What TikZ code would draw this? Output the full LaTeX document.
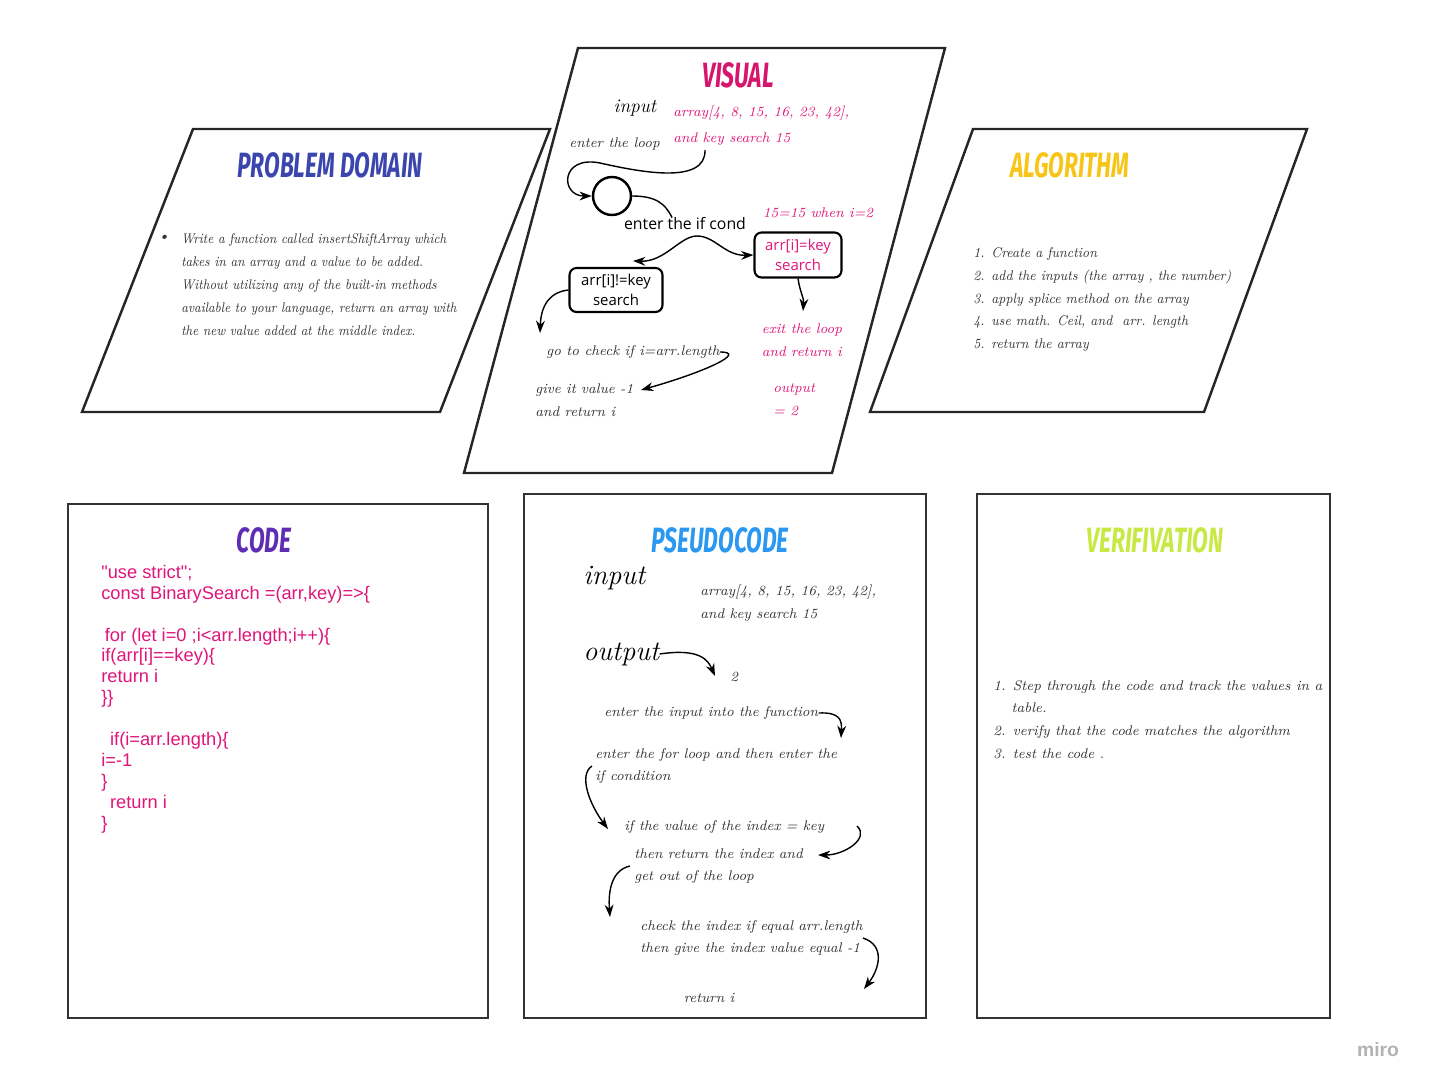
\documentclass[tikz,border=0pt]{standalone}
\usepackage{fontspec}
\usepackage{xcolor}
\usepackage{tikz}
\usetikzlibrary{arrows.meta, positioning, calc}

\newfontfamily\codefont{Liberation Sans}
\newfontfamily\boxfont{Open Sans}
\newfontfamily\titlefont{Fira Sans}[FakeStretch=0.65]

\definecolor{vispink}{HTML}{D6156C}
\definecolor{textpink}{HTML}{E0157A}
\definecolor{probblue}{HTML}{3B45AE}
\definecolor{algoyellow}{HTML}{F6C517}
\definecolor{codepurple}{HTML}{5E2DB3}
\definecolor{pseudoblue}{HTML}{2A98F0}
\definecolor{verilime}{HTML}{C9E843}
\definecolor{handgray}{HTML}{333333}

\begin{document}
\begin{tikzpicture}[x=0.02cm, y=-0.02cm, >={Stealth[length=7pt,width=5pt]},
    panel/.style={line width=1.4pt, draw=black!85},
    card/.style={line width=1.2pt, draw=black!80},
    title/.style={font=\titlefont\fontsize{20}{24}\selectfont\bfseries\itshape},
    hand/.style={font=\fontsize{8}{13}\selectfont\itshape, text=handgray, align=left, inner sep=0pt},
    narrowhand/.style={hand, xscale=0.87, transform shape},
    pinkhand/.style={hand, text=textpink},
    medhand/.style={font=\fontsize{11}{13}\selectfont\itshape, text=black, inner sep=0pt},
    bighand/.style={font=\fontsize{16}{18}\selectfont\itshape, text=black, inner sep=0pt},
    code/.style={font=\codefont\fontsize{10.4}{11.9}\selectfont, text=textpink, align=left, inner sep=0pt},
    rbox/.style={draw, rounded corners=4pt, line width=1.2pt, font=\boxfont\fontsize{8.5}{11}\selectfont, align=center, inner sep=1pt},
    flow/.style={->, line width=0.8pt}]

    \useasboundingbox (0,0) rectangle (1433,1089);

    % panels
    \draw[panel] (193,129) -- (550,129) -- (440,412) -- (82,412) -- cycle;
    \draw[panel] (578,48) -- (945,48) -- (832,473) -- (464,473) -- cycle;
    \draw[panel] (973,129) -- (1307,129) -- (1204,412) -- (870,412) -- cycle;
    \draw[card] (68,504) rectangle (488,1018);
    \draw[card] (524,494) rectangle (926,1018);
    \draw[card] (977,494) rectangle (1330,1018);

    % problem domain
    \node[title, text=probblue] (pdtitle) at (330,165) {PROBLEM DOMAIN};
    \node[hand] (pdbullet) at (164,238) {\textbullet};
    \node[narrowhand, anchor=west] (pdtext) at (181,284.5) {Write a function called insertShiftArray which\\takes in an array and a value to be added.\\Without utilizing any of the built-in methods\\available to your language, return an array with\\the new value added at the middle index.};

    % visual
    \node[title, text=vispink] (vistitle) at (738,75) {VISUAL};
    \node[medhand] (visinput) at (635,108) {input};
    \node[pinkhand, anchor=west] (visarr) at (673,113) {array[4, 8, 15, 16, 23, 42],};
    \node[pinkhand, anchor=west] (viskey) at (673,139) {and key search 15};
    \node[hand, anchor=west] (visloop) at (569,144) {enter the loop};
    \node[circle, draw, line width=1.4pt, minimum size=0.76cm] (loopc) at (612,196) {};
    \node[font=\boxfont\fontsize{9}{11}\selectfont, inner sep=0pt] (ifcond) at (685,224) {enter the if cond};
    \node[pinkhand] (viswhen) at (818,213) {15=15 when i=2};
    \node[rbox, text=textpink, minimum width=1.74cm, minimum height=0.9cm] (eqbox) at (798,255) {arr[i]=key\\search};
    \node[rbox, minimum width=1.86cm, minimum height=0.88cm] (neqbox) at (616,290) {arr[i]!=key\\search};
    \node[pinkhand, align=left] (exitloop) at (802,340) {exit the loop\\and return i};
    \node[pinkhand, anchor=west] (visout) at (773,400) {output\\= 2};
    \node[hand, anchor=west] (gocheck) at (546,352) {go to check if i=arr.length};
    \node[hand, anchor=west] (giveit) at (535,400) {give it value -1\\and return i};

    \coordinate (loopstart) at (705,150);
    \coordinate (neqend) at (540,333);
    \coordinate (giveend) at (641,390);
    \draw[flow] (loopstart) .. controls (706,185) and (640,172) .. (600,163) .. controls (560,155) and (560,196) .. (loopc.west);
    \draw[line width=0.8pt] (loopc.east) .. controls (655,196) and (665,203) .. ($(ifcond.north)+(-13,0)$);
    \draw[flow, <->] ($(neqbox.north)+(17,-6)$) .. controls (665,262) and (680,236) .. (697,236) .. controls (715,236) and (725,256) .. (eqbox.west);
    \draw[flow] (eqbox.south) .. controls (800,292) and (804,298) .. (803,311);
    \draw[flow] (neqbox.west) .. controls (550,292) and (541,305) .. (neqend);
    \draw[flow] (gocheck.east) .. controls (748,352) and (705,372) .. (giveend);

    % algorithm
    \node[narrowhand, xscale=1.06, anchor=west] (algotext) at (973,299.5) {1. Create a function\\2. add the inputs (the array , the number)\\3. apply splice method on the array\\4. use math. Ceil, and \ arr. length\\5. return the array};
    \node[title, text=algoyellow] (algotitle) at (1070,165) {ALGORITHM};

    % code
    \node[title, text=codepurple] (codetitle) at (264,540) {CODE};
    \node[code, anchor=west] (codetext) at (101,699) {"use strict";\\const BinarySearch =(arr,key)=>\{\\\mbox{}\\\hspace*{2pt}for (let i=0 ;i<arr.length;i++)\{\\if(arr[i]==key)\{\\return i\\\}\}\\\mbox{}\\\hspace*{5pt}if(i=arr.length)\{\\i=-1\\\}\\\hspace*{5pt}return i\\\}};

    % pseudocode
    \node[title, text=pseudoblue] (pstitle) at (720,540) {PSEUDOCODE};
    \node[bighand, anchor=west] (psin) at (583,578) {input};
    \node[hand, anchor=west] (psarr) at (700,603) {array[4, 8, 15, 16, 23, 42],\\and key search 15};
    \node[bighand, anchor=west] (psout) at (583,654) {output};
    \node[hand, anchor=west] (pstwo) at (730,677) {2};
    \node[hand, anchor=west] (psenter) at (604,713) {enter the input into the function};
    \node[hand, anchor=west] (psfor) at (595,766) {enter the for loop and then enter the\\if condition};
    \node[hand, anchor=west] (psif) at (624,827) {if the value of the index = key};
    \node[hand, anchor=west] (psthen) at (634,866) {then return the index and\\get out of the loop};
    \node[hand, anchor=west] (pscheck) at (640,938) {check the index if equal arr.length\\then give the index value equal -1};
    \node[hand] (psret) at (709,998) {return i};

    \coordinate (outend) at (715,676);
    \coordinate (enterend) at (841,738);
    \coordinate (forend) at (608,829);
    \coordinate (ifstart) at (857,826);
    \coordinate (thenend) at (818,855);
    \coordinate (getend) at (610,917);
    \coordinate (checkend) at (864,989);
    \draw[flow] (psout.east) .. controls (700,648) and (708,660) .. (outend);
    \draw[flow] (psenter.east) .. controls (840,712) and (842,720) .. (enterend);
    \draw[flow] ($(psfor.west)+(-3,0)$) .. controls (578,775) and (590,805) .. (forend);
    \draw[flow] (ifstart) .. controls (870,838) and (845,855) .. (thenend);
    \draw[flow] ($(psthen.west)+(-4,0)$) .. controls (612,870) and (608,890) .. (getend);
    \draw[flow] (pscheck.east) .. controls (885,945) and (880,968) .. (checkend);

    % verification
    \node[title, text=verilime] (veritle) at (1155,540) {VERIFIVATION};
    \node[hand, anchor=west] (veritext) at (993,719.5) {1. Step through the code and track the values in a\\\hspace*{1.3em}table.\\2. verify that the code matches the algorithm\\3. test the code .};

    \node[font=\codefont\bfseries\fontsize{11}{13}\selectfont, text=black!30] (miro) at (1378,1050) {miro};
\end{tikzpicture}
\end{document}
